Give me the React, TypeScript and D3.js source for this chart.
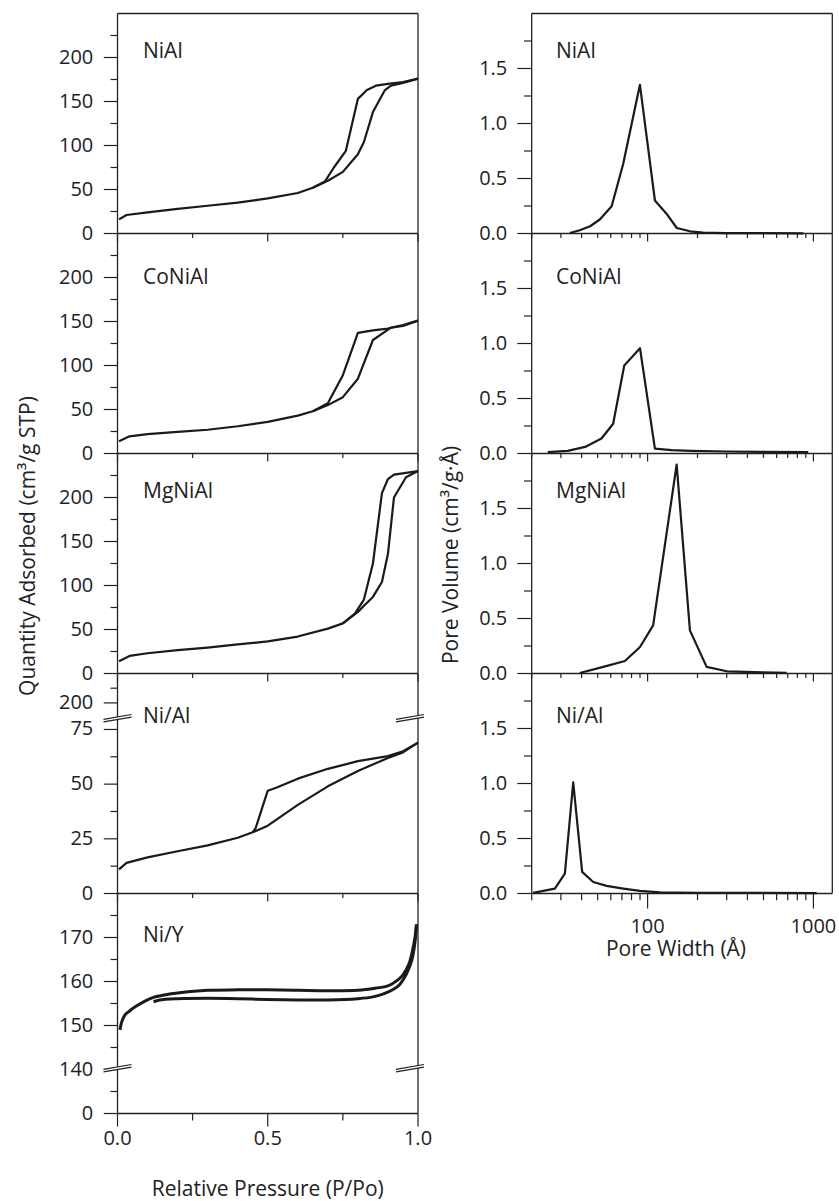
import React from "react";
import * as d3 from "d3";

// ---------- data ----------
// Isotherms: [relative pressure, quantity adsorbed]
const NIAL_ADS: [number, number][] = [
  [0.005, 16], [0.03, 21], [0.1, 24], [0.2, 28], [0.3, 31.5], [0.4, 35], [0.5, 40],
  [0.6, 46], [0.65, 52], [0.7, 60], [0.75, 70], [0.8, 90], [0.82, 104], [0.85, 138],
  [0.89, 163], [0.91, 168], [0.95, 171], [1.0, 176],
];
const NIAL_DES: [number, number][] = [
  [1.0, 176], [0.95, 172], [0.9, 170], [0.86, 168], [0.83, 163], [0.8, 153],
  [0.76, 94], [0.72, 75], [0.69, 59], [0.65, 52],
];
const CONIAL_ADS: [number, number][] = [
  [0.005, 14], [0.04, 19.5], [0.1, 22], [0.2, 24.5], [0.3, 27], [0.4, 31], [0.5, 36],
  [0.6, 43], [0.65, 48], [0.7, 55], [0.75, 64], [0.8, 85], [0.85, 129], [0.91, 143],
  [0.95, 145], [1.0, 151],
];
const CONIAL_DES: [number, number][] = [
  [1.0, 151], [0.95, 146], [0.9, 142], [0.85, 140], [0.8, 137], [0.75, 89],
  [0.7, 57], [0.65, 48],
];
const MGNIAL_ADS: [number, number][] = [
  [0.005, 14], [0.04, 20], [0.1, 23], [0.2, 26.5], [0.3, 29.5], [0.4, 33], [0.5, 36.5],
  [0.6, 42], [0.7, 51], [0.75, 57], [0.8, 70], [0.82, 77], [0.85, 87], [0.88, 104],
  [0.9, 136], [0.92, 200], [0.96, 223], [1.0, 230],
];
const MGNIAL_DES: [number, number][] = [
  [1.0, 230], [0.96, 228], [0.92, 226], [0.9, 221], [0.88, 205], [0.85, 125],
  [0.82, 84], [0.79, 68], [0.75, 57],
];
const NI_AL_ADS: [number, number][] = [
  [0.005, 11], [0.03, 14], [0.1, 16.5], [0.2, 19.3], [0.3, 22], [0.4, 25.5], [0.45, 28],
  [0.5, 31], [0.6, 40.5], [0.7, 49], [0.8, 56], [0.9, 62], [0.95, 64.5], [1.0, 69],
];
const NI_AL_DES: [number, number][] = [
  [1.0, 69], [0.95, 65], [0.9, 62.8], [0.8, 60.5], [0.7, 57], [0.6, 52.5], [0.53, 48.5],
  [0.5, 47], [0.46, 30], [0.45, 28],
];
const NI_Y_ADS: [number, number][] = [
  [0.008, 149], [0.015, 151], [0.025, 152.4], [0.04, 153.3], [0.06, 154.3], [0.09, 155.5],
  [0.12, 156.4], [0.16, 157], [0.2, 157.4], [0.3, 158], [0.4, 158.1], [0.5, 158.1],
  [0.6, 158], [0.7, 157.9], [0.8, 158], [0.86, 158.5], [0.9, 159], [0.93, 160.2],
  [0.95, 161.5], [0.97, 164], [0.98, 166.5], [0.99, 170], [0.995, 173],
];
const NI_Y_DES: [number, number][] = [
  [0.995, 173], [0.99, 169], [0.98, 165], [0.96, 161.5], [0.94, 159.4], [0.92, 158.3],
  [0.885, 157.2], [0.85, 156.5], [0.8, 156.1], [0.7, 155.8], [0.6, 155.8], [0.5, 155.9],
  [0.4, 156.1], [0.3, 156.2], [0.2, 156.1], [0.14, 155.8], [0.12, 155.4],
];

// Pore size distributions: [pore width (Å), pore volume]
const NIAL_PSD: [number, number][] = [
  [34, 0.005], [39, 0.03], [45, 0.066], [51.5, 0.127], [60.7, 0.247], [71.3, 0.634],
  [89.9, 1.352], [110.7, 0.3], [130, 0.18], [150, 0.05], [180, 0.02], [216, 0.008],
  [300, 0.004], [500, 0.003], [870, 0.002],
];
const CONIAL_PSD: [number, number][] = [
  [25, 0.012], [33, 0.024], [42, 0.06], [52.7, 0.136], [62, 0.27], [72.3, 0.8],
  [90, 0.957], [110.7, 0.045], [139.5, 0.03], [184, 0.024], [300, 0.018], [500, 0.015],
  [930, 0.013],
];
const MGNIAL_PSD: [number, number][] = [
  [39, 0.005], [54, 0.06], [73, 0.114], [90, 0.241], [108, 0.437], [149.7, 1.9],
  [180, 0.392], [227, 0.06], [300, 0.02], [500, 0.01], [690, 0.005],
];
const NI_AL_PSD: [number, number][] = [
  [20.4, 0.005], [27.6, 0.045], [31.7, 0.18], [35.6, 1.01], [40.3, 0.196], [47, 0.105],
  [56.6, 0.069], [71.3, 0.045], [90, 0.024], [118.6, 0.01], [200, 0.006], [500, 0.005],
  [1046, 0.004],
];

const ISO_NAMES = ["NiAl", "CoNiAl", "MgNiAl", "Ni/Al", "Ni/Y"];
const PSD_NAMES = ["NiAl", "CoNiAl", "MgNiAl", "Ni/Al"];

// ticks
const STD_MAJOR = [0, 50, 100, 150, 200];
const STD_MINOR = [25, 75, 125, 175, 225];
const NI_AL_LOW_MAJOR = [0, 25, 50, 75];
const NI_AL_LOW_MINOR = [12.5, 37.5, 62.5];
const NI_AL_HIGH_MAJOR = [200];
const NI_AL_HIGH_MINOR = [225];
const NI_Y_LOW_MAJOR = [0];
const NI_Y_LOW_MINOR = [50];
const NI_Y_HIGH_MAJOR = [140, 150, 160, 170];
const NI_Y_HIGH_MINOR = [145, 155, 165, 175];
const PSD_MAJOR = [0, 0.5, 1.0, 1.5];
const PSD_MINOR = [0.25, 0.75, 1.25, 1.75];
const P_MAJOR = [0, 0.5, 1.0];
const P_MINOR = [0.25, 0.75];
const W_MAJOR = [100, 1000];
const W_MINOR = [20, 30, 40, 50, 60, 70, 80, 90, 200, 300, 400, 500, 600, 700, 800, 900];

// ---------- layout ----------
const W = 839;
const H = 1201;
const LX0 = 117.5;
const LX1 = 418;
const RX0 = 531.7;
const RX1 = 832.3;
const TOP = 13.5;
const PH = 220;
const TITLE_DY = [44, 50, 44, 49, 48];
const FONT = "'Open Sans', 'Noto Sans', sans-serif";
const INK = "#222";

type Tick = { v: number; major: boolean; label?: string };
type YAxis = {
  segs: { scale: d3.ScaleLinear<number, number>; ticks: Tick[] }[];
  data: d3.ScaleLinear<number, number>;
  breakY?: number;
};

function mk(major: number[], minor: number[]): Tick[] {
  return [
    ...major.map((v) => ({ v, major: true, label: String(v) })),
    ...minor.map((v) => ({ v, major: false })),
  ];
}

function leftAxis(i: number): YAxis {
  const top = TOP + i * PH;
  const bot = top + PH;
  if (i === 3) {
    const by = bot - 174;
    const low = d3.scaleLinear().domain([0, 79.55]).range([bot, by]);
    const high = d3.scaleLinear().domain([171.8, 250]).range([by, top]);
    return {
      segs: [
        { scale: low, ticks: mk(NI_AL_LOW_MAJOR, NI_AL_LOW_MINOR) },
        { scale: high, ticks: mk(NI_AL_HIGH_MAJOR, NI_AL_HIGH_MINOR) },
      ],
      data: low,
      breakY: by,
    };
  }
  if (i === 4) {
    const by = bot - 44;
    const low = d3.scaleLinear().domain([0, 100]).range([bot, by]);
    const high = d3.scaleLinear().domain([140, 180]).range([by, top]);
    return {
      segs: [
        { scale: low, ticks: mk(NI_Y_LOW_MAJOR, NI_Y_LOW_MINOR) },
        { scale: high, ticks: mk(NI_Y_HIGH_MAJOR, NI_Y_HIGH_MINOR) },
      ],
      data: high,
      breakY: by,
    };
  }
  const s = d3.scaleLinear().domain([0, 250]).range([bot, top]);
  return { segs: [{ scale: s, ticks: mk(STD_MAJOR, STD_MINOR) }], data: s };
}

const ISO_DATA = [
  [NIAL_ADS, NIAL_DES],
  [CONIAL_ADS, CONIAL_DES],
  [MGNIAL_ADS, MGNIAL_DES],
  [NI_AL_ADS, NI_AL_DES],
  [NI_Y_ADS, NI_Y_DES],
];
const PSD_DATA = [NIAL_PSD, CONIAL_PSD, MGNIAL_PSD, NI_AL_PSD];

function BreakMark({ x, y }: { x: number; y: number }) {
  const hw = 14;
  const dy = 2.4;
  const g = 2.6;
  const p1 = [x - hw, y + dy];
  const p2 = [x + hw, y - dy];
  return (
    <g>
      <polygon
        points={`${p1[0]},${p1[1]} ${p2[0]},${p2[1]} ${p2[0]},${p2[1] - g} ${p1[0]},${p1[1] - g}`}
        fill="#fff"
      />
      <line x1={p1[0]} y1={p1[1]} x2={p2[0]} y2={p2[1]} stroke={INK} strokeWidth={1.2} />
      <line x1={p1[0]} y1={p1[1] - g} x2={p2[0]} y2={p2[1] - g} stroke={INK} strokeWidth={1.2} />
    </g>
  );
}

export default function App() {
  const xL = d3.scaleLinear().domain([0, 1]).range([LX0, LX1]);
  const xR = d3.scaleLog().domain([20, 1300]).range([RX0, RX1]);

  const leftPanels = ISO_NAMES.map((name, i) => {
    const top = TOP + i * PH;
    const bot = top + PH;
    const ax = leftAxis(i);
    const last = i === ISO_NAMES.length - 1;
    const curve = i === 4 ? d3.curveCatmullRom.alpha(0.5) : d3.curveLinear;
    const line = d3
      .line<[number, number]>()
      .x((d) => xL(d[0]))
      .y((d) => ax.data(d[1]))
      .curve(curve);
    const xt = [
      ...P_MAJOR.map((v) => ({ v, major: true })),
      ...P_MINOR.map((v) => ({ v, major: false })),
    ];
    return (
      <g key={"L" + i}>
        {/* frame */}
        <line x1={LX0} y1={bot} x2={LX1} y2={bot} stroke={INK} strokeWidth={1.3} />
        <line x1={LX0} y1={top} x2={LX0} y2={bot} stroke={INK} strokeWidth={1.3} />
        <line x1={LX1} y1={top} x2={LX1} y2={bot} stroke={INK} strokeWidth={1.3} />
        {i === 0 && <line x1={LX0} y1={top} x2={LX1} y2={top} stroke={INK} strokeWidth={1.3} />}
        {/* y ticks */}
        {ax.segs.map((sg, k) =>
          sg.ticks.map((t) => {
            const y = sg.scale(t.v);
            return (
              <g key={k + "-" + t.v}>
                <line x1={LX0 - (t.major ? 13.7 : 7)} y1={y} x2={LX0} y2={y} stroke={INK} strokeWidth={1.2} />
                {t.label && (
                  <text x={LX0 - 24.2} y={y + 6} textAnchor="end" fontSize={20} fontFamily={FONT} fill={INK}>
                    {t.label}
                  </text>
                )}
              </g>
            );
          })
        )}
        {/* x ticks */}
        {xt.map((t) => {
          const len = last ? (t.major ? 13 : 7) : t.major ? 8 : 4.5;
          return (
            <line key={"x" + t.v} x1={xL(t.v)} y1={bot} x2={xL(t.v)} y2={bot + len} stroke={INK} strokeWidth={1.2} />
          );
        })}
        {last &&
          P_MAJOR.map((v) => (
            <text key={"xl" + v} x={xL(v)} y={bot + 31.7} textAnchor="middle" fontSize={20} fontFamily={FONT} fill={INK}>
              {v.toFixed(1)}
            </text>
          ))}
        {/* curves */}
        {ISO_DATA[i].map((d, k) => (
          <path key={"c" + k} d={line(d) || ""} fill="none" stroke="#1a1a1a" strokeWidth={i === 4 ? 3 : 2.2} strokeLinejoin="round" />
        ))}
        {ax.breakY !== undefined && (
          <g>
            <BreakMark x={LX0} y={ax.breakY} />
            <BreakMark x={LX1 - 8} y={ax.breakY} />
          </g>
        )}
        <text x={LX0 + 25.5} y={top + TITLE_DY[i]} fontSize={21} fontFamily={FONT} fill={INK}>
          {name}
        </text>
      </g>
    );
  });

  const rightPanels = PSD_NAMES.map((name, i) => {
    const top = TOP + i * PH;
    const bot = top + PH;
    const last = i === PSD_NAMES.length - 1;
    const y = d3.scaleLinear().domain([0, 2]).range([bot, top]);
    const line = d3
      .line<[number, number]>()
      .x((d) => xR(d[0]))
      .y((d) => y(d[1]));
    const yt = mk(PSD_MAJOR, PSD_MINOR);
    const xt = [
      ...W_MAJOR.map((v) => ({ v, major: true })),
      ...W_MINOR.map((v) => ({ v, major: false })),
    ];
    return (
      <g key={"R" + i}>
        <line x1={RX0} y1={bot} x2={RX1} y2={bot} stroke={INK} strokeWidth={1.3} />
        <line x1={RX0} y1={top} x2={RX0} y2={bot} stroke={INK} strokeWidth={1.3} />
        <line x1={RX1} y1={top} x2={RX1} y2={bot} stroke={INK} strokeWidth={1.3} />
        {i === 0 && <line x1={RX0} y1={top} x2={RX1} y2={top} stroke={INK} strokeWidth={1.3} />}
        {yt.map((t) => (
          <g key={"y" + t.v}>
            <line x1={RX0 - (t.major ? 14.4 : 7.7)} y1={y(t.v)} x2={RX0} y2={y(t.v)} stroke={INK} strokeWidth={1.2} />
            {t.major && (
              <text x={RX0 - 24.4} y={y(t.v) + 6.3} textAnchor="end" fontSize={20} fontFamily={FONT} fill={INK}>
                {t.v.toFixed(1)}
              </text>
            )}
          </g>
        ))}
        {xt.map((t) => {
          const len = last ? (t.major ? 15 : 6.7) : t.major ? 8 : 4.5;
          return (
            <line key={"x" + t.v} x1={xR(t.v)} y1={bot} x2={xR(t.v)} y2={bot + len} stroke={INK} strokeWidth={1.2} />
          );
        })}
        {last &&
          W_MAJOR.map((v) => (
            <text key={"xl" + v} x={xR(v)} y={bot + 39.7} textAnchor="middle" fontSize={20} fontFamily={FONT} fill={INK}>
              {String(v)}
            </text>
          ))}
        <path d={line(PSD_DATA[i]) || ""} fill="none" stroke="#1a1a1a" strokeWidth={2.2} strokeLinejoin="round" />
        <text x={RX0 + 24.3} y={top + TITLE_DY[i]} fontSize={21} fontFamily={FONT} fill={INK}>
          {name}
        </text>
      </g>
    );
  });

  const leftBottom = TOP + 5 * PH;
  const rightBottom = TOP + 4 * PH;

  return (
    <svg
      width={W}
      height={H}
      viewBox={`0 0 ${W} ${H}`}
      style={{ position: "absolute", left: 0, top: 0, background: "#fff" }}
    >
      <rect x={0} y={0} width={W} height={H} fill="#fff" />
      {leftPanels}
      {rightPanels}
      <text
        x={(LX0 + LX1) / 2}
        y={leftBottom + 82.7}
        textAnchor="middle"
        fontSize={21}
        fontFamily={FONT}
        fill={INK}
      >
        Relative Pressure (P/Po)
      </text>
      <text
        x={(RX0 + RX1) / 2 - 6}
        y={rightBottom + 62}
        textAnchor="middle"
        fontSize={21}
        fontFamily={FONT}
        fill={INK}
      >
        Pore Width (Å)
      </text>
      <text
        transform={`translate(35, 546) rotate(-90)`}
        textAnchor="middle"
        fontSize={21}
        fontFamily={FONT}
        fill={INK}
      >
        Quantity Adsorbed (cm³/g STP)
      </text>
      <text
        transform={`translate(458, 555) rotate(-90)`}
        textAnchor="middle"
        fontSize={21}
        fontFamily={FONT}
        fill={INK}
      >
        Pore Volume (cm³/g·Å)
      </text>
    </svg>
  );
}
